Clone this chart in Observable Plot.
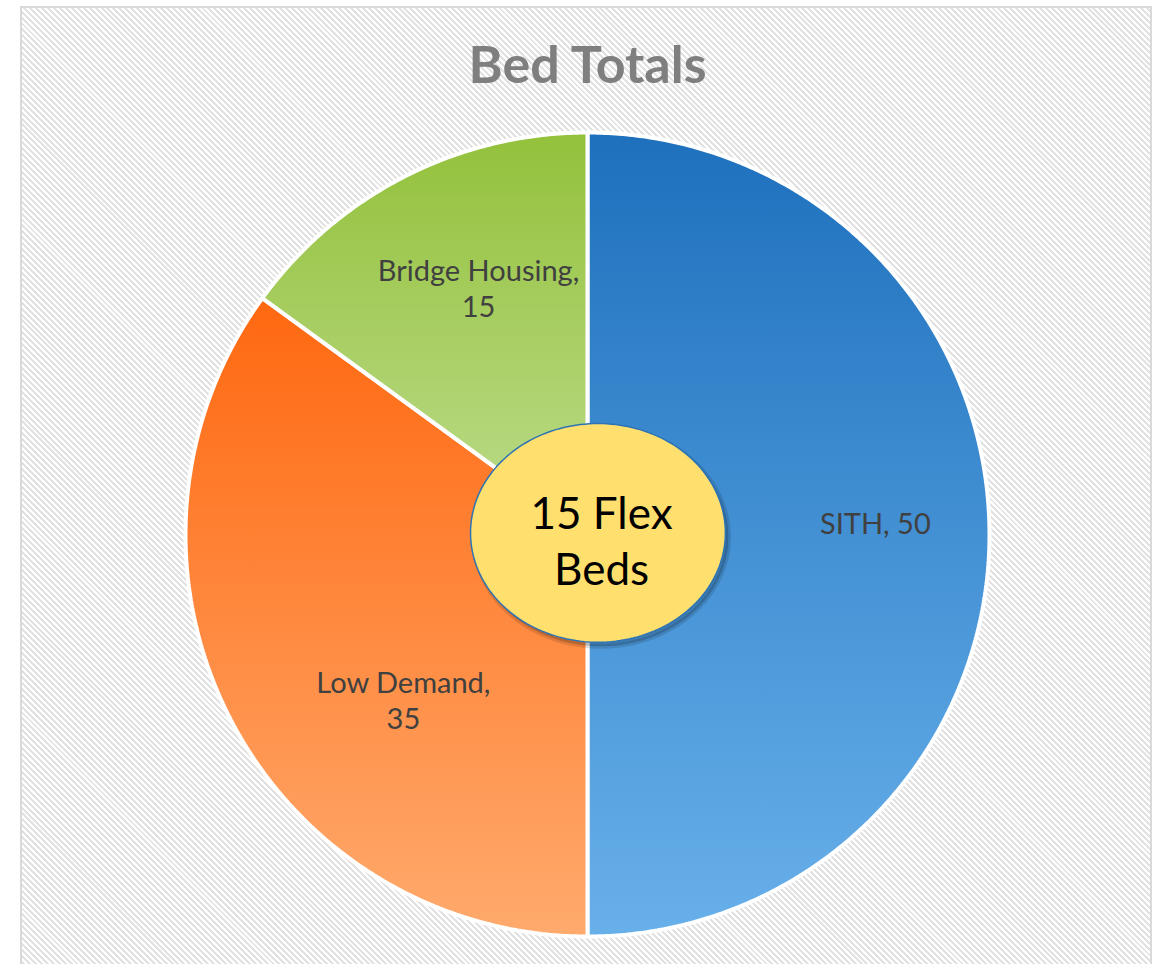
<!DOCTYPE html>
<html>
<head>
<meta charset="utf-8">
<script src="https://cdn.jsdelivr.net/npm/d3@7"></script>
<script src="https://cdn.jsdelivr.net/npm/@observablehq/plot@0.6"></script>
<style>
  html, body { margin: 0; padding: 0; background: #fff; overflow: hidden; width: 1157px; height: 964px; }
  #frame {
    position: absolute; left: 20px; top: 6px; width: 1128px; height: 1000px;
    border: 2px solid #d9d9d9;
    background: repeating-linear-gradient(45deg, #ffffff 0px, #ffffff 2.1px, #e2e2e2 2.1px, #e2e2e2 4.2px);
  }
  #chart { position: absolute; left: 0; top: 0; }
</style>
</head>
<body>
<div id="frame"></div>
<div id="chart"></div>
<script>
// ---- data ----
const categories = ["SITH", "Low Demand", "Bridge Housing"];
const values = [50, 35, 15];
const title = "Bed Totals";
const centerNote = "15 Flex\nBeds";

// ---- styling ----
const gradients = [
  ["#1e70bd", "#68b0ea"],
  ["#ff6810", "#ffaa6d"],
  ["#93c13b", "#bddc8c"]
];
// label anchor points (in pie-radius units), Excel "best fit" placement
const labelLayout = [[0.716, 0.03], [-0.458, -0.41], [-0.271, 0.614]];

const pie = d3.pie().sort(null).value(d => d)(values);

// slice outlines in unit-radius coordinates (angle measured clockwise from top)
const slices = pie.map((p, i) => {
  const pts = [{x: 0, y: 0}];
  const n = Math.max(2, Math.ceil((p.endAngle - p.startAngle) / (Math.PI / 360)));
  for (let k = 0; k <= n; k++) {
    const a = p.startAngle + (p.endAngle - p.startAngle) * k / n;
    pts.push({x: Math.sin(a), y: Math.cos(a)});
  }
  pts.push({x: 0, y: 0});
  return pts;
});

const labels = categories.map((c, i) => ({
  text: c.includes(" ") ? `${c},\n${values[i]}` : `${c}, ${values[i]}`,
  x: labelLayout[i][0],
  y: labelLayout[i][1]
}));

// center ellipse (unit-radius coordinates)
const ell = {cx: 0.026, cy: 0.004, rx: 0.317, ry: 0.272};
const ellipsePts = d3.range(0, 361, 2).map(t => {
  const a = t * Math.PI / 180;
  return {x: ell.cx + ell.rx * Math.sin(a), y: ell.cy + ell.ry * Math.cos(a)};
});

const ns = "http://www.w3.org/2000/svg";
function defsMark() {
  const defs = document.createElementNS(ns, "defs");
  gradients.forEach((g, i) => {
    const lg = document.createElementNS(ns, "linearGradient");
    lg.setAttribute("id", "grad" + i);
    lg.setAttribute("x1", "0"); lg.setAttribute("y1", "0");
    lg.setAttribute("x2", "0"); lg.setAttribute("y2", "1");
    [[0, g[0]], [1, g[1]]].forEach(([o, c]) => {
      const s = document.createElementNS(ns, "stop");
      s.setAttribute("offset", o);
      s.setAttribute("stop-color", c);
      lg.appendChild(s);
    });
    defs.appendChild(lg);
  });
  return defs;
}

const font = "Lato, 'Open Sans', sans-serif";

const chart = Plot.plot({
  width: 1157,
  height: 964,
  marginLeft: 185,
  marginRight: 168,
  marginTop: 132,
  marginBottom: 28,
  x: {domain: [-1, 1], axis: null},
  y: {domain: [-1, 1], axis: null},
  style: {background: "transparent", fontFamily: font, overflow: "visible"},
  marks: [
    defsMark,
    ...slices.map((pts, i) => Plot.line(pts, {
      x: "x", y: "y",
      fill: `url(#grad${i})`,
      stroke: "white",
      strokeWidth: 4,
      strokeLinejoin: "miter"
    })),
    Plot.text(labels, {
      x: "x", y: "y", text: "text",
      fontSize: 29, fill: "#404040", lineHeight: 1.25, lineAnchor: "middle"
    }),
    // soft shadow of the callout
    Plot.line(ellipsePts, {
      x: "x", y: "y", dx: 3, dy: 4,
      fill: "#000", fillOpacity: 0.18, stroke: "#000", strokeOpacity: 0.12, strokeWidth: 5
    }),
    Plot.line(ellipsePts, {
      x: "x", y: "y",
      fill: "#ffdf6d", stroke: "#2e74b5", strokeWidth: 1.5
    }),
    Plot.text([centerNote], {
      x: 0.035, y: -0.012, text: d => d,
      fontSize: 44, fill: "#000", lineHeight: 1.27, lineAnchor: "middle"
    }),
    Plot.text([title], {
      frameAnchor: "top", dy: -66, text: d => d,
      fontSize: 52, fontWeight: "bold", fill: "#7f7f7f", lineAnchor: "middle"
    })
  ]
});
document.getElementById("chart").appendChild(chart);
</script>
</body>
</html>
